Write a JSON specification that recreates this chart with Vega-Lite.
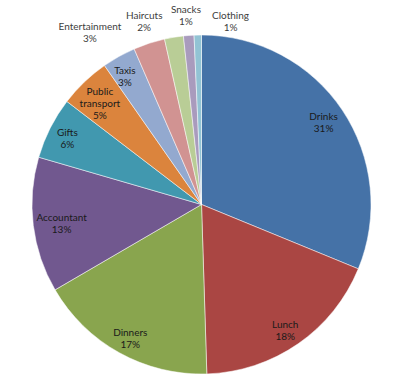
{
  "$schema": "https://vega.github.io/schema/vega-lite/v6.json",
  "width": 339,
  "height": 339,
  "autosize": {"type": "none"},
  "padding": {"left": 32, "top": 35, "right": 29, "bottom": 8},
  "background": "white",
  "config": {
    "view": {"stroke": null},
    "text": {"font": "Lato", "fontSize": 10, "lineHeight": 12, "lineBreak": "\n", "align": "center", "baseline": "middle"}
  },
  "data": {
    "values": [
      {"category": "Drinks", "value": 31.2, "label": "Drinks\n31%"},
      {"category": "Lunch", "value": 18.3, "label": "Lunch\n18%"},
      {"category": "Dinners", "value": 17.1, "label": "Dinners\n17%"},
      {"category": "Accountant", "value": 12.9, "label": "Accountant\n13%"},
      {"category": "Gifts", "value": 5.9, "label": "Gifts\n6%"},
      {"category": "Public transport", "value": 4.9, "label": "Public\ntransport\n5%"},
      {"category": "Taxis", "value": 3.2, "label": "Taxis\n3%"},
      {"category": "Entertainment", "value": 3.0, "label": "Entertainment\n3%"},
      {"category": "Haircuts", "value": 1.8, "label": "Haircuts\n2%"},
      {"category": "Snacks", "value": 1.0, "label": "Snacks\n1%"},
      {"category": "Clothing", "value": 0.7, "label": "Clothing\n1%"}
    ]
  },
  "encoding": {
    "theta": {"field": "value", "type": "quantitative", "stack": true},
    "order": {"field": "value", "sort": "descending"}
  },
  "layer": [
    {
      "mark": {"type": "arc", "stroke": "#ffffff", "strokeWidth": 0.5},
      "encoding": {
        "color": {
          "field": "category",
          "type": "nominal",
          "legend": null,
          "scale": {
            "domain": ["Drinks", "Lunch", "Dinners", "Accountant", "Gifts", "Public transport", "Taxis", "Entertainment", "Haircuts", "Snacks", "Clothing"],
            "range": ["#4572A7", "#AA4643", "#89A54E", "#71588F", "#4198AF", "#DB843D", "#93A9CF", "#D19392", "#B9CD96", "#A99BBD", "#92C3D4"]
          }
        }
      }
    },
    {
      "mark": {"type": "text", "radius": 147, "dy": -6, "fill": "#1a1a1a"},
      "encoding": {
        "text": {"condition": {"test": "datum.category === 'Drinks' || datum.category === 'Public transport'", "field": "label"}, "value": ""}
      }
    },
    {
      "mark": {"type": "text", "radius": 147, "dy": 0, "fill": "#1a1a1a"},
      "encoding": {
        "text": {"condition": {"test": "datum.category === 'Lunch' || datum.category === 'Dinners'", "field": "label"}, "value": ""}
      }
    },
    {
      "mark": {"type": "text", "radius": 147, "dx": 6, "dy": -4, "fill": "#1a1a1a"},
      "encoding": {
        "text": {"condition": {"test": "datum.category === 'Accountant'", "field": "label"}, "value": ""}
      }
    },
    {
      "mark": {"type": "text", "radius": 147, "dx": -3, "dy": -5, "fill": "#1a1a1a"},
      "encoding": {
        "text": {"condition": {"test": "datum.category === 'Gifts'", "field": "label"}, "value": ""}
      }
    },
    {
      "mark": {"type": "text", "radius": 147, "dx": -5, "dy": -5, "fill": "#1a1a1a"},
      "encoding": {
        "text": {"condition": {"test": "datum.category === 'Taxis'", "field": "label"}, "value": ""}
      }
    },
    {
      "mark": {"type": "text", "radius": 180, "dx": -56, "dy": -6, "fill": "#404040"},
      "encoding": {
        "text": {"condition": {"test": "datum.category === 'Entertainment'", "field": "label"}, "value": ""}
      }
    },
    {
      "mark": {"type": "text", "radius": 180, "dx": -28, "dy": -11, "fill": "#404040"},
      "encoding": {
        "text": {"condition": {"test": "datum.category === 'Haircuts'", "field": "label"}, "value": ""}
      }
    },
    {
      "mark": {"type": "text", "radius": 180, "dx": -2, "dy": -15, "fill": "#404040"},
      "encoding": {
        "text": {"condition": {"test": "datum.category === 'Snacks'", "field": "label"}, "value": ""}
      }
    },
    {
      "mark": {"type": "text", "radius": 180, "dx": 33, "dy": -9, "fill": "#404040"},
      "encoding": {
        "text": {"condition": {"test": "datum.category === 'Clothing'", "field": "label"}, "value": ""}
      }
    }
  ]
}
